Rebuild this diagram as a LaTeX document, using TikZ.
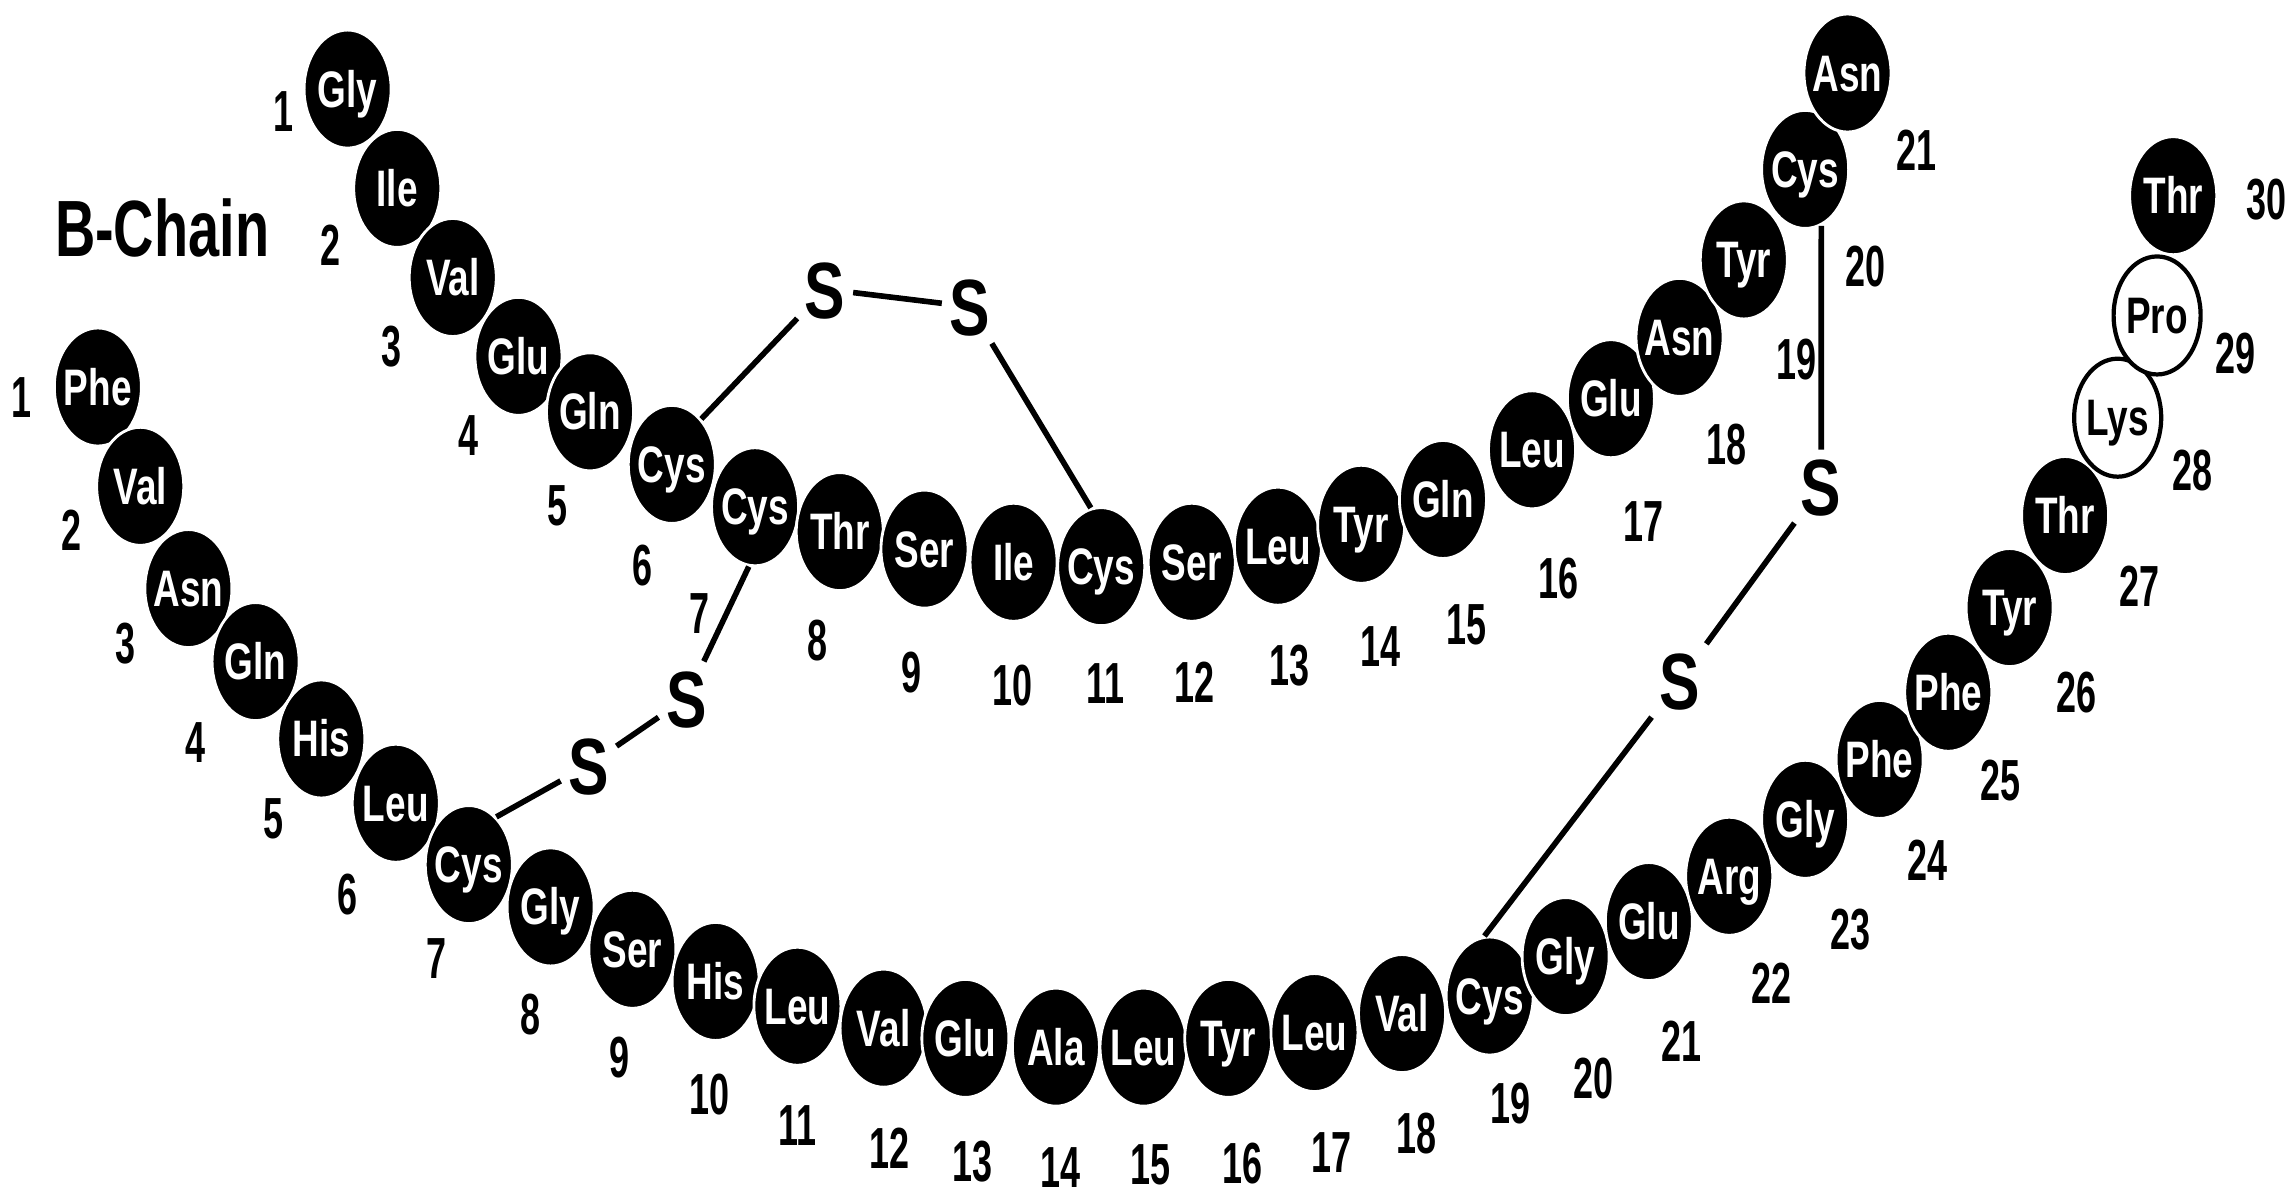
\documentclass[tikz,border=0pt]{standalone}
\usepackage{fontspec}
\setmainfont{Liberation Sans}
\newfontfamily\resfont[FakeStretch=0.72]{Liberation Sans}
\newfontfamily\numfont[FakeStretch=0.62]{Liberation Sans}
\newfontfamily\sulfont[FakeStretch=0.76]{Liberation Sans}
\newfontfamily\chainfont[FakeStretch=0.70]{Liberation Sans}
\usetikzlibrary{shapes.geometric}
\newcommand{\rn}[1]{\makebox[0pt]{#1}}

\begin{document}
\begin{tikzpicture}[
    x=0.014605cm,y=-0.014605cm,
    res/.style={ellipse,fill=black,draw=white,line width=0.8pt,
      minimum width=0.87cm,minimum height=1.18cm,inner sep=0pt,
      text=white,text height=0.36cm,text depth=0pt,
      font=\resfont\bfseries\fontsize{14.6}{16}\selectfont},
    openres/.style={res,fill=white,draw=black,line width=1.2pt,text=black},
    num/.style={inner sep=0pt,text height=0.41cm,text depth=0pt,
      font=\numfont\bfseries\fontsize{16.5}{18}\selectfont},
    sulfur/.style={inner sep=2pt,text height=0.58cm,text depth=0pt,
      font=\sulfont\bfseries\fontsize{22.7}{24}\selectfont},
    bond/.style={line width=1.6pt,draw=black}
]
\useasboundingbox (0,0) rectangle (1568,818);

\node[inner sep=0pt,font=\chainfont\bfseries\fontsize{22.7}{24}\selectfont]
  (bchain) at (111,156) {B-Chain};

% upper chain
\node[res] (a1) at (238,61) {\rn{Gly}};   \node[num] (na1) at (194,76) {1};
\node[res] (a2) at (272,129) {\rn{Ile}};  \node[num] (na2) at (226,168) {2};
\node[res] (a3) at (310,190) {\rn{Val}};  \node[num] (na3) at (268,237) {3};
\node[res] (a4) at (355,244) {\rn{Glu}};  \node[num] (na4) at (321,298) {4};
\node[res] (a5) at (404,282) {\rn{Gln}};  \node[num] (na5) at (382,346) {5};
\node[res] (a6) at (460,318) {\rn{Cys}};  \node[num] (na6) at (440,387) {6};
\node[res] (a7) at (517,347) {\rn{Cys}};  \node[num] (na7) at (479,420) {7};
\node[res] (a8) at (575,364) {\rn{Thr}};  \node[num] (na8) at (560,438) {8};
\node[res] (a9) at (633,376) {\rn{Ser}};  \node[num] (na9) at (624,460) {9};
\node[res] (a10) at (694,385) {\rn{Ile}}; \node[num] (na10) at (693,469) {10};
\node[res] (a11) at (754,388) {\rn{Cys}}; \node[num] (na11) at (757,468) {11};
\node[res] (a12) at (816,385) {\rn{Ser}}; \node[num] (na12) at (818,467) {12};
\node[res] (a13) at (875,374) {\rn{Leu}}; \node[num] (na13) at (883,455) {13};
\node[res] (a14) at (932,359) {\rn{Tyr}}; \node[num] (na14) at (945,442) {14};
\node[res] (a15) at (988,342) {\rn{Gln}}; \node[num] (na15) at (1004,427) {15};
\node[res] (a16) at (1049,308) {\rn{Leu}}; \node[num] (na16) at (1067,396) {16};
\node[res] (a17) at (1103,273) {\rn{Glu}}; \node[num] (na17) at (1125,357) {17};
\node[res] (a18) at (1150,231) {\rn{Asn}}; \node[num] (na18) at (1182,304) {18};
\node[res] (a19) at (1194,178) {\rn{Tyr}}; \node[num] (na19) at (1230,246) {19};
\node[res] (a20) at (1236,116) {\rn{Cys}}; \node[num] (na20) at (1277,182) {20};
\node[res] (a21) at (1265,50) {\rn{Asn}};  \node[num] (na21) at (1312,103) {21};

% lower chain
\node[res] (b1) at (67,265) {\rn{Phe}};   \node[num] (nb1) at (15,272) {1};
\node[res] (b2) at (96,333) {\rn{Val}};   \node[num] (nb2) at (49,363) {2};
\node[res] (b3) at (129,403) {\rn{Asn}};  \node[num] (nb3) at (86,440) {3};
\node[res] (b4) at (175,453) {\rn{Gln}};  \node[num] (nb4) at (134,508) {4};
\node[res] (b5) at (220,506) {\rn{His}};  \node[num] (nb5) at (187,560) {5};
\node[res] (b6) at (271,550) {\rn{Leu}};  \node[num] (nb6) at (238,612) {6};
\node[res] (b7) at (321,592) {\rn{Cys}};  \node[num] (nb7) at (299,656) {7};
\node[res] (b8) at (377,621) {\rn{Gly}};  \node[num] (nb8) at (363,694) {8};
\node[res] (b9) at (433,650) {\rn{Ser}};  \node[num] (nb9) at (424,724) {9};
\node[res] (b10) at (490,672) {\rn{His}}; \node[num] (nb10) at (486,749) {10};
\node[res] (b11) at (546,689) {\rn{Leu}}; \node[num] (nb11) at (546,770) {11};
\node[res] (b12) at (605,704) {\rn{Val}}; \node[num] (nb12) at (609,786) {12};
\node[res] (b13) at (661,711) {\rn{Glu}}; \node[num] (nb13) at (666,795) {13};
\node[res] (b14) at (723,717) {\rn{Ala}}; \node[num] (nb14) at (726,799) {14};
\node[res] (b15) at (783,717) {\rn{Leu}}; \node[num] (nb15) at (788,797) {15};
\node[res] (b16) at (841,711) {\rn{Tyr}}; \node[num] (nb16) at (851,796) {16};
\node[res] (b17) at (900,707) {\rn{Leu}}; \node[num] (nb17) at (912,789) {17};
\node[res] (b18) at (960,694) {\rn{Val}}; \node[num] (nb18) at (970,776) {18};
\node[res] (b19) at (1020,682) {\rn{Cys}}; \node[num] (nb19) at (1034,755) {19};
\node[res] (b20) at (1072,655) {\rn{Gly}}; \node[num] (nb20) at (1091,738) {20};
\node[res] (b21) at (1129,631) {\rn{Glu}}; \node[num] (nb21) at (1151,713) {21};
\node[res] (b22) at (1184,600) {\rn{Arg}}; \node[num] (nb22) at (1213,673) {22};
\node[res] (b23) at (1236,561) {\rn{Gly}}; \node[num] (nb23) at (1267,636) {23};
\node[res] (b24) at (1287,520) {\rn{Phe}}; \node[num] (nb24) at (1320,589) {24};
\node[res] (b25) at (1334,474) {\rn{Phe}}; \node[num] (nb25) at (1370,534) {25};
\node[res] (b26) at (1376,416) {\rn{Tyr}}; \node[num] (nb26) at (1422,474) {26};
\node[res] (b27) at (1414,353) {\rn{Thr}}; \node[num] (nb27) at (1465,401) {27};
\node[openres] (b28) at (1450,286) {\rn{Lys}}; \node[num] (nb28) at (1501,322) {28};
\node[res] (b30) at (1488,134) {\rn{Thr}}; \node[num] (nb30) at (1552,136) {30};
\node[openres] (b29) at (1477,216) {\rn{Pro}}; \node[num] (nb29) at (1531,242) {29};

% disulfide bridges
\node[sulfur] (s1) at (565,198) {S};
\node[sulfur] (s2) at (664,210) {S};
\node[sulfur] (s3) at (470,478) {S};
\node[sulfur] (s4) at (403,524) {S};
\node[sulfur] (s5) at (1247,333) {S};
\node[sulfur] (s6) at (1150,466) {S};

\draw[bond] (a6.57) -- (s1);
\draw[bond] (s1) -- (s2);
\draw[bond] (s2) -- (a11.100);
\draw[bond] (a7.-96) -- (s3);
\draw[bond] (s3) -- (s4);
\draw[bond] (s4) -- (b7.60);
\draw[bond] (a20.-74) -- (s5);
\draw[bond] (s5) -- (s6);
\draw[bond] (s6) -- (b19.95);
\end{tikzpicture}
\end{document}
